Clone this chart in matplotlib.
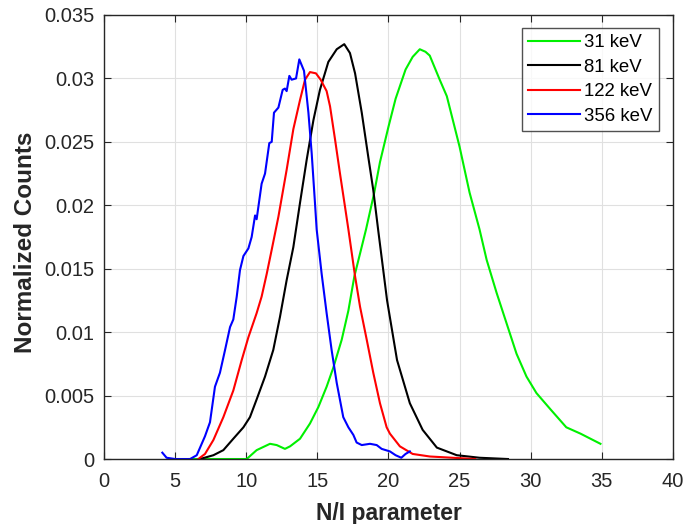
import matplotlib
matplotlib.use("Agg")
import matplotlib.pyplot as plt

plt.rcParams['font.family'] = ['Liberation Sans', 'DejaVu Sans']

labels = ['31 keV', '81 keV', '122 keV', '356 keV']
colors = ['#00f000', '#000000', '#ff0000', '#0000ff']

x31 = [6.0, 8.0, 10.03, 10.73, 11.67, 12.14, 12.72, 13.08, 13.78, 14.48, 15.07, 15.65, 16.12, 16.71,
       17.18, 17.6, 18.0, 18.42, 18.98, 19.4, 20.0, 20.5, 21.2, 21.7, 22.2, 22.6, 22.9, 23.6, 24.1, 25.0,
       25.7, 26.4, 26.9, 27.6, 28.3, 29.0, 29.7, 30.4, 31.4, 32.5, 33.5, 34.9]
y31 = [0.0, 0.0, 0.0, 0.0007, 0.0012, 0.0011, 0.0008, 0.0010, 0.0016, 0.0028, 0.0041, 0.0057, 0.0072,
       0.0094, 0.0117, 0.0144, 0.0162, 0.0181, 0.0209, 0.0234, 0.0262, 0.0284, 0.0307, 0.0317, 0.0323,
       0.0321, 0.0318, 0.0299, 0.0286, 0.0246, 0.0210, 0.0181, 0.0157, 0.0131, 0.0107, 0.0083, 0.0065,
       0.0052, 0.0039, 0.0025, 0.0020, 0.0012]

x81 = [6.75, 7.69, 8.39, 9.09, 9.80, 10.26, 10.73, 11.32, 11.90, 12.37, 12.84, 13.31, 13.78, 14.25,
       14.72, 15.18, 15.77, 16.36, 16.89, 17.29, 17.65, 18.12, 18.58, 18.93, 19.28, 19.9, 20.6, 21.5,
       22.4, 23.4, 24.8, 26.4, 28.4]
y81 = [0.0, 0.0003, 0.0007, 0.0016, 0.0025, 0.0033, 0.0047, 0.0065, 0.0086, 0.0112, 0.0141, 0.0167,
       0.0202, 0.0236, 0.0267, 0.0291, 0.0313, 0.0323, 0.0327, 0.0320, 0.0304, 0.0273, 0.0238, 0.0212,
       0.0180, 0.0125, 0.0078, 0.0044, 0.0023, 0.0009, 0.0003, 0.0001, 0.0]

x122 = [6.63, 7.10, 7.69, 8.39, 9.09, 9.68, 10.15, 10.73, 11.08, 11.44, 11.79, 12.26, 12.84, 13.31,
        13.78, 14.13, 14.48, 14.90, 15.23, 15.65, 15.89, 16.24, 16.59, 16.94, 17.18, 17.65, 18.0,
        18.47, 18.93, 19.4, 19.87, 20.1, 20.8, 21.7, 22.9, 24.5, 26.1]
y122 = [0.0, 0.0004, 0.0015, 0.0033, 0.0054, 0.0078, 0.0096, 0.0115, 0.0128, 0.0146, 0.0165, 0.0191,
        0.0228, 0.0260, 0.0283, 0.0299, 0.0305, 0.0304, 0.0299, 0.0290, 0.0278, 0.0252, 0.0225, 0.0199,
        0.0181, 0.0144, 0.0120, 0.0094, 0.0068, 0.0044, 0.0025, 0.0020, 0.0010, 0.0004, 0.0002, 0.0001,
        0.0]

x356 = [4.1, 4.4, 5.0, 6.05, 6.52, 7.10, 7.45, 7.80, 8.15, 8.51, 8.86, 9.09, 9.33, 9.56, 9.80, 10.15,
        10.38, 10.62, 10.73, 11.08, 11.32, 11.62, 11.79, 11.95, 12.26, 12.56, 12.72, 12.84, 13.03,
        13.19, 13.50, 13.73, 14.06, 14.37, 14.60, 14.83, 14.95, 15.3, 15.65, 16.0, 16.36, 16.82, 17.18,
        17.53, 17.76, 18.12, 18.7, 19.17, 19.52, 20.1, 20.5, 20.9, 21.2, 21.5]
y356 = [0.0005, 0.0001, 0.0, 0.0, 0.0003, 0.0018, 0.0029, 0.0057, 0.0068, 0.0086, 0.0104, 0.0110,
        0.0128, 0.0149, 0.0160, 0.0166, 0.0175, 0.0192, 0.0189, 0.0217, 0.0225, 0.0249, 0.0250, 0.0273,
        0.0277, 0.0291, 0.0292, 0.0290, 0.0302, 0.0299, 0.0300, 0.0315, 0.0306, 0.0273, 0.0241, 0.0202,
        0.0181, 0.0146, 0.0115, 0.0086, 0.0060, 0.0033, 0.0025, 0.0019, 0.0013, 0.0011, 0.0012, 0.0011,
        0.0008, 0.0006, 0.0003, 0.0001, 0.0004, 0.0006]

xs = [x31, x81, x122, x356]
ys = [y31, y81, y122, y356]

fig = plt.figure(figsize=(6.87, 5.24), dpi=100)
ax = fig.add_axes([0.1514, 0.124, 0.8282, 0.8474])
for x, y, c, l in zip(xs, ys, colors, labels):
    ax.plot(x, y, color=c, lw=1.5, label=l)

ax.set_xlim(0, 40)
ax.set_ylim(0, 0.035)
ax.set_xticks(range(0, 41, 5))
ax.set_yticks([0, 0.005, 0.01, 0.015, 0.02, 0.025, 0.03, 0.035])
ax.set_yticklabels(['0', '0.005', '0.01', '0.015', '0.02', '0.025', '0.03', '0.035'])
ax.grid(True, color='#e0e0e0', lw=0.8)
ax.set_axisbelow(True)
ax.tick_params(direction='in', top=True, right=True, labelsize=14.5, colors='#262626', length=5)
ax.tick_params(axis='x', pad=9)
ax.tick_params(axis='y', pad=7)
for s in ax.spines.values():
    s.set_color('#262626')
    s.set_linewidth(1.0)
ax.set_xlabel('N/I parameter', fontsize=16.5, fontweight='bold', color='#262626', labelpad=8)
ax.set_ylabel('Normalized Counts', fontsize=17.5, fontweight='bold', color='#262626')
ax.yaxis.set_label_coords(-0.1178, 0.4876)
leg = ax.legend(loc='upper right', fontsize=13.4, frameon=True, fancybox=False, edgecolor='#262626',
                handlelength=2.8, handletextpad=0.25, borderpad=0.33, labelspacing=0.4,
                borderaxespad=0, bbox_to_anchor=(0.9754, 0.9707))
leg.get_frame().set_linewidth(1.0)

fig.savefig('out.png', dpi=100)
